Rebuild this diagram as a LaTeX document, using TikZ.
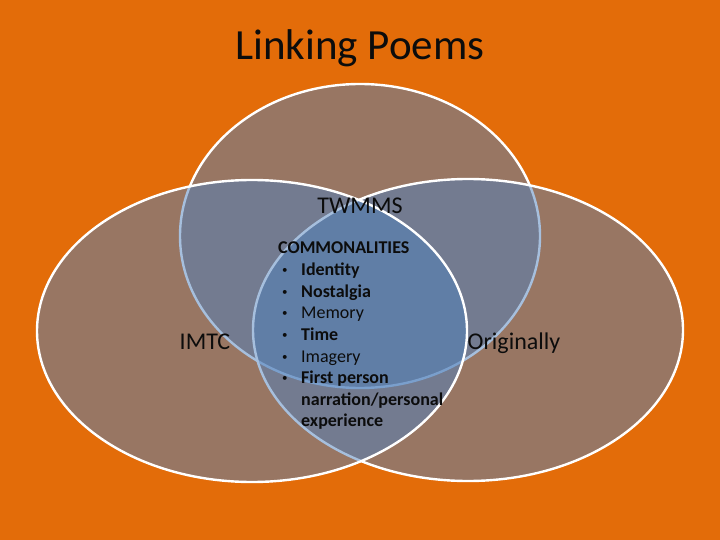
\documentclass[tikz,border=0pt]{standalone}
\usepackage{fontspec}
\setmainfont{Carlito}
\definecolor{bgorange}{RGB}{227,108,9}
\definecolor{vennblue}{RGB}{79,129,189}
\definecolor{inktext}{RGB}{12,12,12}
\begin{document}
\begin{tikzpicture}[x=1pt,y=-1pt,
  venn/.style={fill=vennblue, fill opacity=0.5, draw=white, line width=2.4pt},
  label/.style={inner sep=0pt, anchor=base, text=inktext, font=\fontsize{24}{28.8}\selectfont},
  item/.style={inner sep=0pt, anchor=base west, text=inktext, font=\fontsize{18}{21.6}\selectfont},
  bul/.style={inner sep=0pt, anchor=base west, text=inktext, font=\fontsize{11}{13}\selectfont}]
\useasboundingbox (0,0) rectangle (720,540);
\fill[bgorange] (0,0) rectangle (720,540);
% ellipses: top, right, left (drawing order matters)
\coordinate (ctop) at (360,236);
\coordinate (cright) at (468,330);
\coordinate (cleft) at (252,331);
\draw[venn] (ctop) ellipse [x radius=180pt, y radius=152pt];
\draw[venn] (cright) ellipse [x radius=215pt, y radius=151pt];
\draw[venn] (cleft) ellipse [x radius=215pt, y radius=151pt];
% title and labels
\node[inner sep=0pt, anchor=base, text=inktext, font=\fontsize{43}{52}\selectfont] (title) at (360,60) {Linking Poems};
\node[label] (twmms) at (360,214) {TWMMS};
\node[label] (imtc) at (205,349) {IMTC};
\node[label] (orig) at (514,349) {Originally};
% commonalities
\node[item] (hdr) at (278,254) {\bfseries COMMONALITIES};
\node[bul] (b1) at (282,273.6) {•}; \node[item] (i1) at (301,275.6) {\bfseries Identity};
\node[bul] (b2) at (282,295.2) {•}; \node[item] (i2) at (301,297.2) {\bfseries Nostalgia};
\node[bul] (b3) at (282,316.8) {•}; \node[item] (i3) at (301,318.8) {Memory};
\node[bul] (b4) at (282,338.4) {•}; \node[item] (i4) at (301,340.4) {\bfseries Time};
\node[bul] (b5) at (282,360) {•}; \node[item] (i5) at (301,362) {Imagery};
\node[bul] (b6) at (282,381.6) {•}; \node[item] (i6) at (301,383.6) {\bfseries First person};
\node[item] (i7) at (301,405.2) {\bfseries narration/personal};
\node[item] (i8) at (301,426.8) {\bfseries experience};
\end{tikzpicture}
\end{document}
